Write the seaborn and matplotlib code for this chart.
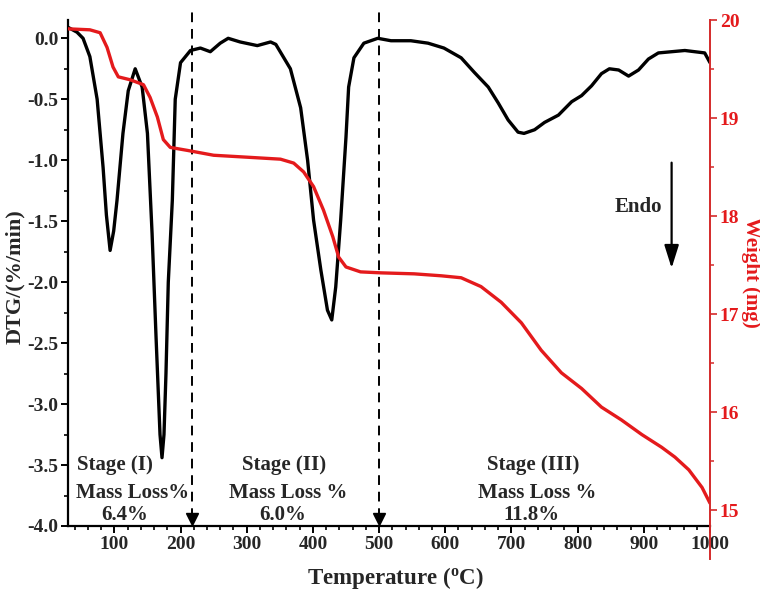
import matplotlib
matplotlib.use("Agg")
import matplotlib.pyplot as plt
from matplotlib.ticker import MultipleLocator, FixedLocator, FormatStrFormatter
import seaborn as sns

# ── data ────────────────────────────────────────────────────────
TEMP_DTG = [30, 43.6, 52.7, 63, 74, 83, 88, 93.6, 99, 104, 113, 121, 131.5,
            142, 150, 157, 163, 169, 172, 175, 178, 181.5, 187.6, 192, 200,
            215, 230, 245, 260, 272, 290, 316, 336, 344, 366, 381.5, 392,
            401, 412, 422, 428.5, 434.5, 442, 450, 454, 462, 477, 498, 518,
            548, 574, 598, 624, 644, 665, 680, 695, 710, 719, 735, 750, 771,
            791, 806, 821, 836, 848, 862, 877, 892, 907, 922, 942, 962, 977,
            992, 1000]
DTG = [0.09, 0.05, 0.0, -0.15, -0.50, -1.06, -1.45, -1.74, -1.58, -1.33,
       -0.78, -0.43, -0.25, -0.40, -0.78, -1.60, -2.45, -3.25, -3.44, -3.25,
       -2.75, -2.00, -1.33, -0.50, -0.20, -0.10, -0.08, -0.11, -0.04, 0.00,
       -0.03, -0.06, -0.03, -0.05, -0.25, -0.57, -1.00, -1.49, -1.90, -2.23,
       -2.31, -2.04, -1.49, -0.81, -0.40, -0.16, -0.04, 0.00, -0.02, -0.02,
       -0.04, -0.08, -0.16, -0.28, -0.40, -0.53, -0.67, -0.77, -0.78, -0.75,
       -0.69, -0.63, -0.52, -0.47, -0.39, -0.29, -0.25, -0.26, -0.31, -0.26,
       -0.17, -0.12, -0.11, -0.10, -0.11, -0.12, -0.20]

TEMP_TG = [30, 63, 78.5, 89, 98, 106, 124, 144, 154, 165, 174, 184.5, 210,
           250, 301, 351, 371, 386, 401, 416, 430, 439, 450, 472, 503, 553,
           594, 624, 654, 684.5, 715, 745, 775.5, 806, 836, 866, 897, 927,
           947, 968, 988, 1000]
WEIGHT = [19.91, 19.90, 19.87, 19.72, 19.52, 19.42, 19.39, 19.34, 19.21,
          19.01, 18.78, 18.70, 18.67, 18.62, 18.60, 18.58, 18.54, 18.45,
          18.30, 18.06, 17.79, 17.58, 17.48, 17.43, 17.42, 17.41, 17.39,
          17.37, 17.28, 17.12, 16.91, 16.63, 16.40, 16.24, 16.05, 15.92,
          15.77, 15.64, 15.54, 15.41, 15.23, 15.07]

STAGE_BOUNDS = [218, 500]
STAGE_LINES = [
    ["Stage (I)", "Mass Loss%", "6.4%"],
    ["Stage (II)", "Mass Loss %", "6.0%"],
    ["Stage (III)", "Mass Loss %", "11.8%"],
]

RED = "#e41a1c"
RED_AX = "#d42a2a"

sns.set_theme(style="ticks")
plt.rcParams.update({
    "font.family": ["Liberation Serif", "DejaVu Serif"],
    "font.weight": "bold",
    "axes.labelweight": "bold",
    "axes.unicode_minus": False,
    "mathtext.fontset": "custom",
    "mathtext.rm": "Liberation Serif:bold",
    "mathtext.it": "Liberation Serif:bold",
    "mathtext.bf": "Liberation Serif:bold",
})

fig = plt.figure(figsize=(7.6, 5.92), dpi=100)
ax = fig.add_axes([0.0895, 0.1115, 0.8447, 0.8547])
ax2 = fig.add_axes([0.0895, 0.0557, 0.8447, 0.9105])
ax2.patch.set_visible(False)

# ── DTG (left) ──────────────────────────────────────────────────
sns.lineplot(x=TEMP_DTG, y=DTG, ax=ax, color="black", linewidth=2.4,
             sort=False)
ax.set_xlim(30, 1000)
ax.set_ylim(-4.0, 0.15)
ax.xaxis.set_major_locator(FixedLocator(range(100, 1001, 100)))
ax.xaxis.set_minor_locator(MultipleLocator(20))
ax.yaxis.set_major_locator(MultipleLocator(0.5))
ax.yaxis.set_minor_locator(MultipleLocator(0.25))
ax.yaxis.set_major_formatter(FormatStrFormatter("%.1f"))
ax.tick_params(axis="both", which="major", direction="out", length=5,
               width=1.4, labelsize=14, pad=2, color="black")
ax.tick_params(axis="both", which="minor", direction="out", length=3,
               width=1.2, color="black")
for side in ["top", "right"]:
    ax.spines[side].set_visible(False)
for side in ["left", "bottom"]:
    ax.spines[side].set_linewidth(1.6)
    ax.spines[side].set_color("black")

ax.set_xlabel("Temperature ($^{\\rm o}$C)", fontsize=16.5,
              ha="center", va="center")
ax.xaxis.set_label_coords(0.51, -0.103)
ax.set_ylabel("DTG/(%/min)", fontsize=16, ha="center", va="center")
ax.yaxis.set_label_coords(-0.082, 0.492)

# stage separators
for b in STAGE_BOUNDS:
    ax.axvline(b, ymin=0.015, ymax=1.015, color="black", linewidth=1.4,
               dashes=(5, 3.5), clip_on=False)
    ax.plot([b], [-3.94], marker="v", color="black", markersize=8,
            clip_on=False)

stage_x = [[101, 127, 115], [357, 363, 354], [733, 739, 730]]
stage_y = [-3.50, -3.73, -3.91]
for lines, xs in zip(STAGE_LINES, stage_x):
    for s, x, y in zip(lines, xs, stage_y):
        ax.text(x, y, s, ha="center", va="center", fontsize=15,
                fontweight="bold")

# Endo arrow
ax.annotate("", xy=(942, -1.885), xytext=(942, -1.02),
            arrowprops=dict(arrowstyle="-|>,head_length=0.7,head_width=0.22",
                            color="black", lw=1.6, mutation_scale=20,
                            shrinkA=0, shrinkB=0))
ax.text(892, -1.385, "Endo", ha="center", va="center", fontsize=15,
        fontweight="bold")

# ── Weight (right) ──────────────────────────────────────────────
sns.lineplot(x=TEMP_TG, y=WEIGHT, ax=ax2, color=RED, linewidth=2.4,
             sort=False)
ax2.set_xlim(30, 1000)
ax2.set_ylim(14.5, 20.0)
ax2.yaxis.tick_right()
ax2.yaxis.set_label_position("right")
ax2.yaxis.set_major_locator(FixedLocator([15, 16, 17, 18, 19, 20]))
ax2.yaxis.set_minor_locator(FixedLocator([15.5, 16.5, 17.5, 18.5, 19.5]))
ax2.tick_params(axis="x", which="both", bottom=False, labelbottom=False)
ax2.tick_params(axis="y", which="major", direction="out", length=5,
                width=1.2, labelsize=14, pad=2, color=RED_AX,
                labelcolor=RED)
ax2.tick_params(axis="y", which="minor", direction="out", length=3,
                width=1.1, color=RED_AX)
for side in ["top", "left", "bottom"]:
    ax2.spines[side].set_visible(False)
ax2.spines["right"].set_color(RED_AX)
ax2.spines["right"].set_linewidth(1.4)
ax2.set_ylabel("Weight (mg)", fontsize=15, color=RED, rotation=270,
               ha="center", va="center")
ax2.yaxis.set_label_coords(1.064, 0.532)

fig.savefig("out.png", dpi=100)
plt.close(fig)
